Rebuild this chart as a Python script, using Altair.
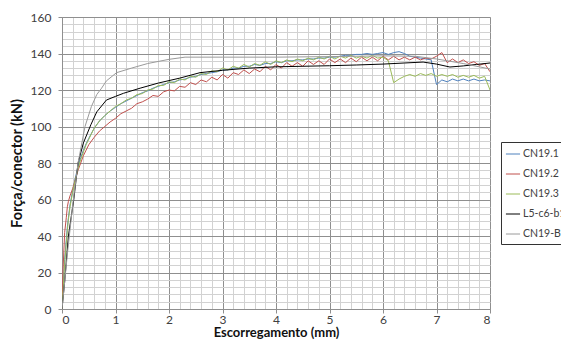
import altair as alt
import pandas as pd

# ---- data -------------------------------------------------------------
NAMES = ["CN19.1", "CN19.2", "CN19.3", "L5-c6-b16", "CN19-BN"]
COLORS = ["#4f81bd", "#c0504d", "#9bbb59", "#000000", "#9a9a9a"]
WIDTHS = [1, 1, 1, 2, 1.5]

X_TEST = [0, 0.02, 0.05, 0.08, 0.1, 0.12, 0.15, 0.2, 0.25, 0.3, 0.35, 0.4, 0.45, 0.5,
          0.6, 0.7, 0.8, 0.9, 1.0, 1.1, 1.2, 1.3, 1.4, 1.5, 1.6, 1.7, 1.8, 1.9, 2.0,
          2.1, 2.2, 2.3, 2.4, 2.5, 2.6, 2.7, 2.8, 2.9, 3.0, 3.1, 3.2, 3.3, 3.4, 3.5,
          3.6, 3.7, 3.8, 3.9, 4.0, 4.1, 4.2, 4.3, 4.4, 4.5, 4.6, 4.7, 4.8, 4.9, 5.0,
          5.1, 5.2, 5.3, 5.4, 5.5, 5.6, 5.7, 5.8, 5.9, 6.0, 6.1, 6.2, 6.3, 6.4, 6.5,
          6.6, 6.7, 6.8, 6.9, 7.0, 7.1, 7.2, 7.3, 7.4, 7.5, 7.6, 7.7, 7.8, 7.9, 8.0]

CN19_1 = [0, 12, 27, 38, 45, 50, 57, 65, 72, 78, 83, 87, 90.5, 93.5,
          99, 103, 106, 108.5, 110.5, 112.5, 114, 115.5, 117, 118.5, 119.5, 121, 122, 123, 124,
          124.5, 125.5, 126, 127, 127.5, 128.5, 129, 129.5, 130, 131, 131, 132, 132, 133, 133,
          134, 133.5, 134.5, 134.5, 135.5, 135, 136, 136, 136.5, 136.5, 137, 137, 137.5, 137.5, 138,
          138, 138.5, 139, 139, 139.5, 139.5, 140, 139.5, 140, 140.5, 139.5, 140.5, 141, 140, 138.5,
          138, 137.5, 137, 136.5, 123, 125.5, 124.5, 126, 125, 126, 125, 126, 125, 125.5, 125]

CN19_2 = [0, 22, 42, 50, 56, 59, 62, 66, 71, 76, 80, 84, 87, 90,
          94, 97.5, 100, 102.5, 104.5, 107, 108.5, 110, 112.5, 113.5, 115, 117, 116.5, 119, 120,
          119.5, 122, 121.5, 124, 123, 125.5, 124.5, 127, 125.5, 128.5, 126.5, 129.5, 128.5, 131, 129,
          131.5, 130, 133, 131, 134, 132, 135, 133, 135, 133, 136, 134, 136, 134, 137,
          135, 137, 135, 137.5, 135.5, 138, 136, 138, 136, 138.5, 136.5, 138.5, 136.5, 138, 136.5,
          138, 136.5, 137.5, 137, 138.5, 140.5, 135, 137, 135, 136.5, 134.5, 135.5, 133.5, 134.5, 130]

CN19_3 = [0, 10, 25, 36, 43, 49, 56, 64, 71, 77, 82, 86, 90, 93,
          99, 103, 106, 108.5, 111, 112.5, 114.5, 115.5, 117.5, 118, 120, 120.5, 122.5, 122.5, 124.5,
          124, 126, 125.5, 127.5, 127, 129, 128.5, 130.5, 130, 132, 131, 133, 132, 134, 132.5,
          134.5, 133.5, 135.5, 134, 136, 135, 136.5, 135.5, 137, 136, 137.5, 136.5, 138, 137, 138.5,
          137, 138.5, 137.5, 139, 137.5, 138.5, 137.5, 139, 137.5, 138, 136, 124, 126, 127.5, 128.5,
          127.5, 129, 128, 129, 127.5, 128.5, 127.5, 128.5, 127, 128, 127, 128, 126.5, 127.5, 120]

X_L5 = [0, 0.05, 0.12, 0.22, 0.3, 0.4, 0.54, 0.65, 0.83, 1.0, 1.15, 1.46, 1.8, 2.2,
        2.58, 3.0, 3.5, 4.0, 4.5, 5.0, 5.5, 6.0, 6.4, 6.75, 7.0, 7.25, 7.5, 7.75, 8.0]
L5 = [0, 15, 40, 60, 80, 91, 101, 108, 114.5, 116.5, 118.2, 121, 123.8, 126.5,
      129.5, 130.8, 132, 132.7, 133, 133.3, 133.7, 134.2, 134.8, 135.3, 134.2, 132.6, 133.2, 134, 134.8]

X_BN = [0, 0.05, 0.1, 0.2, 0.3, 0.43, 0.55, 0.65, 0.74, 0.83, 1.02, 1.3, 1.6, 2.0,
        2.3, 3.0, 4.0, 5.0, 6.0, 6.6, 7.0, 7.5, 8.0]
CN19_BN = [0, 15, 30, 57, 80, 100, 111, 117.5, 121, 125, 129.5, 132, 134.5, 136.8,
           138, 138, 138, 138.3, 138.7, 138.5, 137, 134.5, 131.5]

SERIES = [(NAMES[0], X_TEST, CN19_1), (NAMES[1], X_TEST, CN19_2), (NAMES[2], X_TEST, CN19_3),
          (NAMES[3], X_L5, L5), (NAMES[4], X_BN, CN19_BN)]

X_TICKS = [round(i * 0.2, 1) for i in range(41)]
Y_TICKS = [i * 4 for i in range(41)]

rows = []
for k, (name, xs, ys) in enumerate(SERIES):
    for i, (xv, yv) in enumerate(zip(xs, ys)):
        rows.append({"serie": name, "x": xv, "y": yv, "k": k, "i": i})
df = pd.DataFrame(rows)

FONT = "Lato"
MAJOR = "#8f8f8f"
MINOR = "#d2d2d2"

x_axis = alt.Axis(
    values=X_TICKS,
    title="Escorregamento (mm)",
    labelExpr="abs(datum.value - round(datum.value)) < 0.001 ? format(datum.value, 'd') : ''",
    labelOverlap=False,
    labelFont=FONT, labelFontSize=12, labelColor="#404040", labelPadding=1,
    titleFont=FONT, titleFontSize=13, titleFontWeight="bold", titleColor="#111111",
    titlePadding=1,
    gridColor={"condition": {"test": "abs(datum.value - round(datum.value)) < 0.001", "value": MAJOR}, "value": MINOR},
    gridWidth=1,
    tickColor={"condition": {"test": "abs(datum.value - round(datum.value)) < 0.001", "value": MAJOR}, "value": "transparent"},
    tickSize=4,
    domainColor=MAJOR,
)
y_axis = alt.Axis(
    values=Y_TICKS,
    title="Força/conector (kN)",
    labelExpr="datum.value % 20 === 0 ? datum.label : ''",
    labelOverlap=False,
    labelFont=FONT, labelFontSize=12, labelColor="#404040", labelPadding=7,
    titleFont=FONT, titleFontSize=14.5, titleFontWeight="bold", titleColor="#111111",
    titlePadding=6,
    gridColor={"condition": {"test": "datum.value % 20 === 0", "value": MAJOR}, "value": MINOR},
    gridWidth=1,
    tickColor={"condition": {"test": "datum.value % 20 === 0", "value": MAJOR}, "value": "transparent"},
    tickSize=4,
    domainColor=MAJOR,
)

chart = alt.Chart(df).mark_line(clip=True).encode(
    x=alt.X("x:Q", scale=alt.Scale(domain=[0, 8], nice=False, zero=False), axis=x_axis),
    y=alt.Y("y:Q", scale=alt.Scale(domain=[0, 160], nice=False), axis=y_axis),
    color=alt.Color("serie:N", scale=alt.Scale(domain=NAMES, range=COLORS),
                    legend=alt.Legend(title=None, orient="none", legendX=439, legendY=125,
                                      symbolType="stroke", symbolSize=200, labelOffset=2,
                                      labelFont=FONT, labelFontSize=10.5, labelColor="#404040",
                                      rowPadding=6, padding=4, strokeColor="#333333",
                                      labelLimit=200)),
    strokeWidth=alt.StrokeWidth("serie:N", scale=alt.Scale(domain=NAMES, range=WIDTHS),
                                legend=alt.Legend(title=None, orient="none", legendX=439, legendY=125)),
    order=alt.Order("i:Q"),
).properties(
    width=428, height=292,
    autosize="none",
    padding={"left": 54, "top": 9, "right": 71, "bottom": 32},
).configure_view(stroke=None).configure(background="white")

chart.save("out.html", embed_options={"renderer": "svg", "actions": False})
